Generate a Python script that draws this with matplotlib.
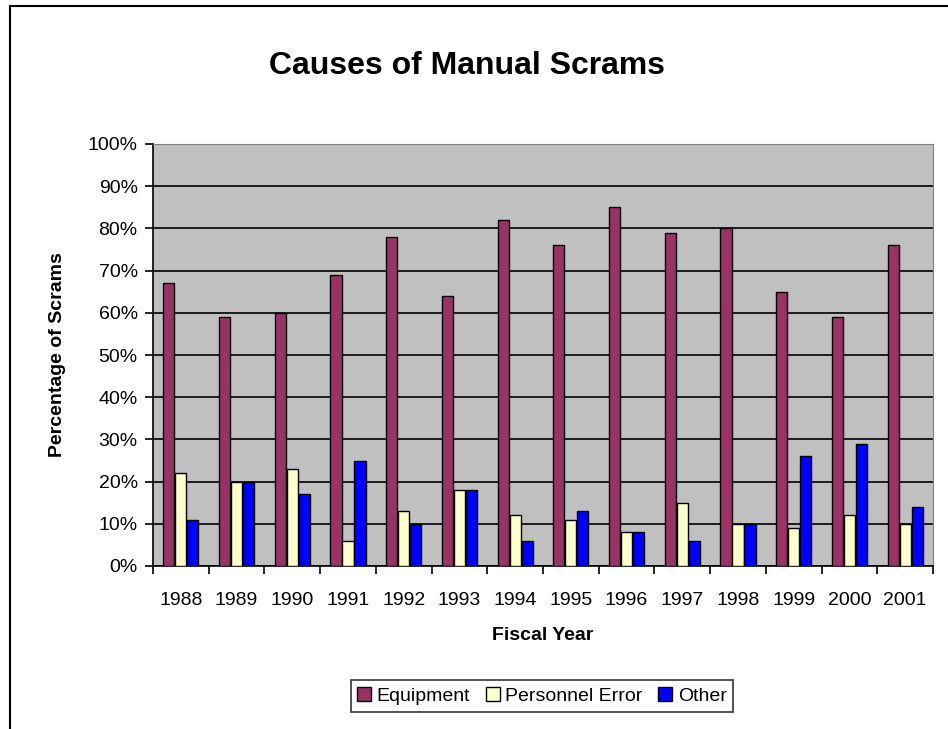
import numpy as np
import matplotlib
matplotlib.use("Agg")
import matplotlib.pyplot as plt
from matplotlib.patches import Patch
from matplotlib.lines import Line2D

font_size = 14

years = ['1988', '1989', '1990', '1991', '1992', '1993', '1994',
         '1995', '1996', '1997', '1998', '1999', '2000', '2001']
equipment = [67, 59, 60, 69, 78, 64, 82, 76, 85, 79, 80, 65, 59, 76]
personnel = [22, 20, 23, 6, 13, 18, 12, 11, 8, 15, 10, 9, 12, 10]
other = [11, 20, 17, 25, 10, 18, 6, 13, 8, 6, 10, 26, 29, 14]
y_ticks = [0, 10, 20, 30, 40, 50, 60, 70, 80, 90, 100]

plt.rcParams['font.family'] = ['Liberation Sans', 'DejaVu Sans']

fig = plt.figure(figsize=(9.48, 7.29), dpi=100)
ax = fig.add_axes([153/948, 1 - 566/729, 780/948, 422/729])

x = np.arange(len(years))
w = 0.2
off = 0.215
ax.bar(x - off, equipment, w, color='#993366', edgecolor='black', linewidth=1, zorder=3)
ax.bar(x, personnel, w, color='#FFFFCC', edgecolor='black', linewidth=1, zorder=3)
ax.bar(x + off, other, w, color='#0000FF', edgecolor='black', linewidth=1, zorder=3)

ax.set_facecolor('#C0C0C0')
ax.set_xlim(-0.5, len(years) - 0.5)
ax.set_ylim(0, 100)

ax.set_yticks(y_ticks)
ax.set_yticklabels([f'{v}%' for v in y_ticks], fontsize=font_size)
ax.yaxis.grid(True, color='black', linewidth=1.2, zorder=1)

ax.set_xticks(x)
ax.set_xticklabels(years, fontsize=font_size)
ax.set_xticks(np.arange(len(years) + 1) - 0.5, minor=True)
ax.tick_params(axis='x', which='major', length=0, pad=19)
ax.tick_params(axis='x', which='minor', length=6, width=1.2, direction='out')
ax.tick_params(axis='y', length=6, width=1.2, direction='out', pad=5)

ax.spines['top'].set_color('#808080')
ax.spines['right'].set_color('#808080')
ax.spines['left'].set_linewidth(1.2)
ax.spines['bottom'].set_linewidth(1.2)

ax.set_xlabel('Fiscal Year', fontsize=font_size, fontweight='bold', labelpad=13)
ax.set_ylabel('Percentage of Scrams', fontsize=font_size, fontweight='bold', labelpad=16)

fig.text(0.493, 0.909, 'Causes of Manual Scrams', fontsize=23, fontweight='bold',
         ha='center', va='center')

# chart frame (left and top edges visible)
fig.add_artist(Line2D([9.5/948, 9.5/948], [0, 1 - 6/729], color='black', linewidth=1.5,
                      transform=fig.transFigure))
fig.add_artist(Line2D([9.5/948, 1], [1 - 6/729, 1 - 6/729], color='black', linewidth=1.5,
                      transform=fig.transFigure))

legend_elements = [
    Patch(facecolor='#993366', edgecolor='black', label='Equipment'),
    Patch(facecolor='#FFFFCC', edgecolor='black', label='Personnel Error'),
    Patch(facecolor='#0000FF', edgecolor='black', label='Other'),
]
leg = fig.legend(handles=legend_elements, loc='center', bbox_to_anchor=(542/948, 1 - 696/729),
                 ncol=3, frameon=True, fancybox=False, edgecolor='black', fontsize=font_size,
                 handlelength=0.7, handleheight=0.7, handletextpad=0.3, columnspacing=0.8,
                 borderpad=0.35)
leg.get_frame().set_linewidth(1.2)

plt.savefig('out.png', dpi=100)
